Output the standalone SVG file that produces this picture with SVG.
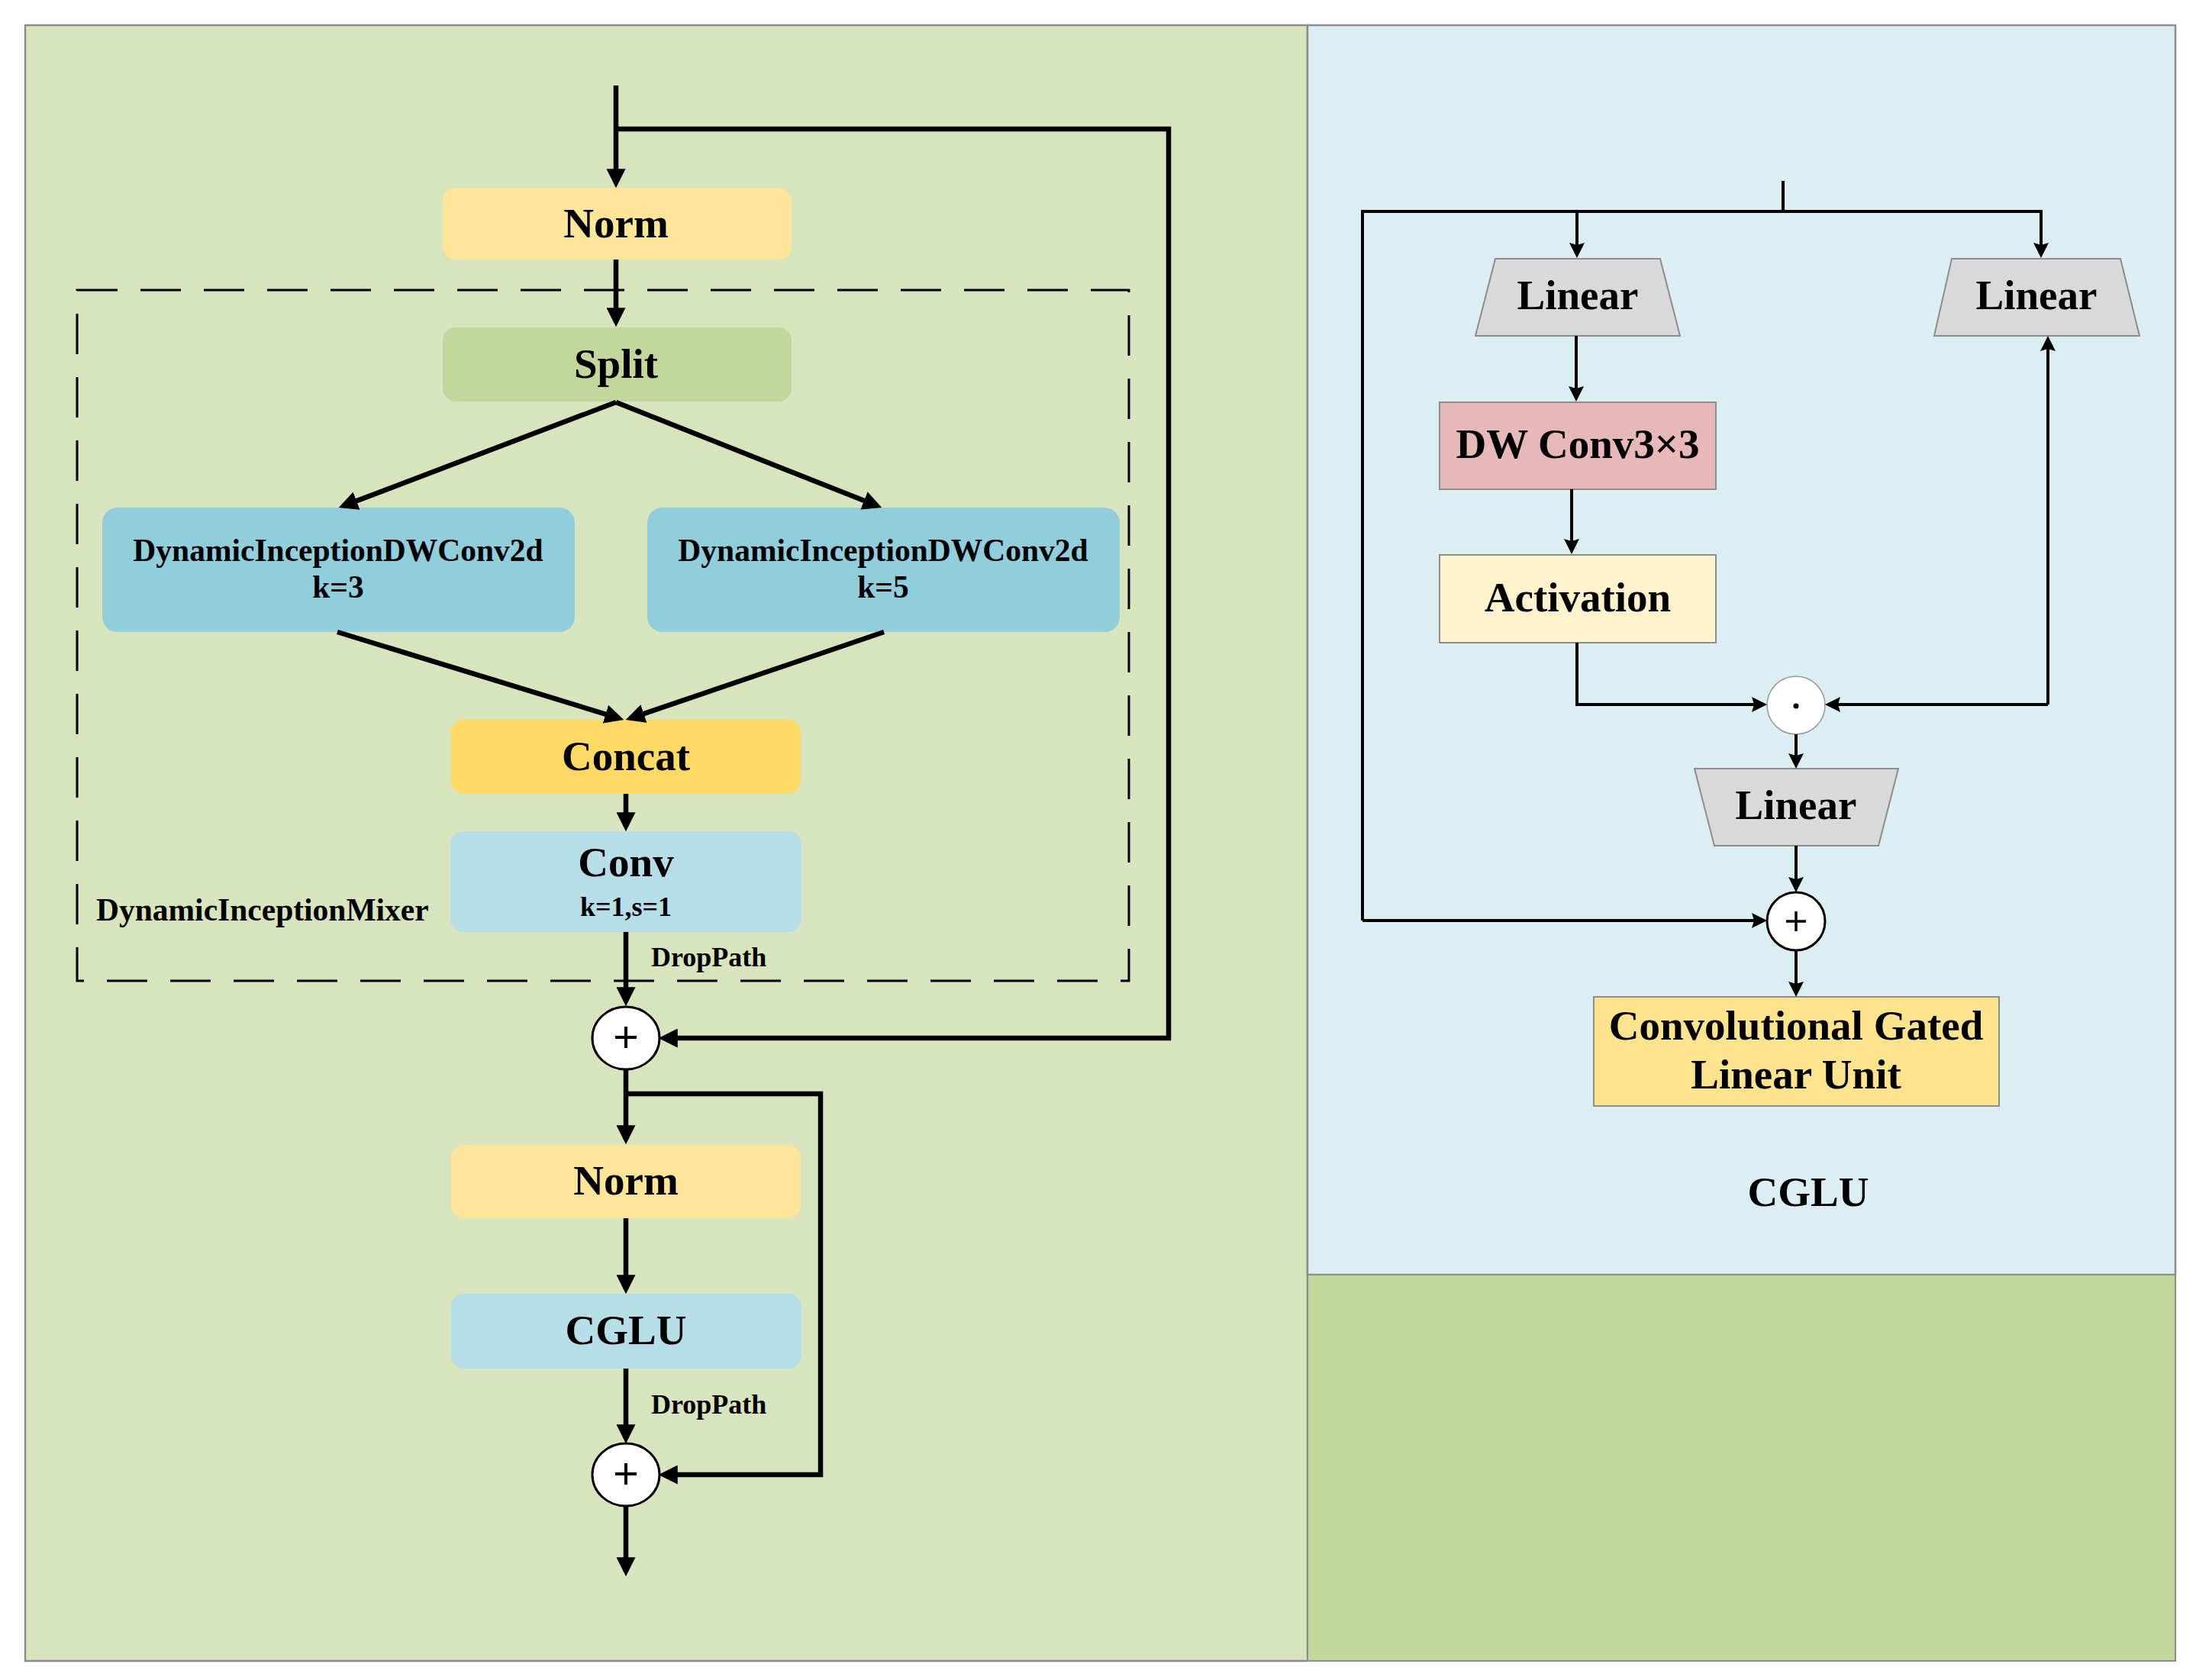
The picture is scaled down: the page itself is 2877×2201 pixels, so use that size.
<svg xmlns="http://www.w3.org/2000/svg" width="2877" height="2201" viewBox="0 0 2877 2201">
<defs>
<style>
.t{font-family:"Liberation Serif","Times New Roman",serif;font-weight:bold;fill:#000;text-anchor:middle}
.big{font-size:55px}
.mid{font-size:41.5px}
.sm{font-size:36px}
.cl{fill:none;stroke:#000;stroke-width:6.5;stroke-linejoin:miter}
.cr{fill:none;stroke:#000;stroke-width:4;stroke-linejoin:miter}
.box{stroke:none}
.sq{stroke:#8c8c8c;stroke-width:2}
</style>
<marker id="a" viewBox="0 0 24 24" markerWidth="25" markerHeight="25" refX="18" refY="12" orient="auto" markerUnits="userSpaceOnUse">
<path d="M0,0 L24,12 L0,24 Z" fill="#000"/>
</marker>
<marker id="b" viewBox="0 0 20 20" markerWidth="20" markerHeight="20" refX="16" refY="10" orient="auto" markerUnits="userSpaceOnUse">
<path d="M0,0 L20,10 L0,20 L3,10 Z" fill="#000"/>
</marker>
</defs>
<rect width="2877" height="2201" fill="#fff"/>
<g id="panels">
<rect x="33" y="33" width="1680" height="2143" fill="#d7e4bd" stroke="#8c8c8c" stroke-width="2.5"/>
<rect x="1713" y="33" width="1137" height="1637" fill="#daeef3" stroke="#8c8c8c" stroke-width="2.5"/>
<rect x="1713" y="1670" width="1137" height="506" fill="#c3d69b" stroke="#8c8c8c" stroke-width="2"/>
</g>
<g id="mixer-frame">
<rect x="101" y="380" width="1378" height="905" fill="none" stroke="#000" stroke-width="3" stroke-dasharray="53 30"/>
<text class="t mid" x="126" y="1206" style="text-anchor:start">DynamicInceptionMixer</text>
</g>
<g id="norm1"><rect class="box" x="580" y="246" width="457" height="94" rx="17" fill="#fee599"/><text class="t big" x="807" y="311">Norm</text></g>
<g id="split"><rect class="box" x="580" y="429" width="457" height="97" rx="17" fill="#c3d69b"/><text class="t big" x="807" y="495">Split</text></g>
<g id="didw3"><rect class="box" x="134" y="665" width="619" height="163" rx="20" fill="#92cddc"/><text class="t mid" x="443" y="735">DynamicInceptionDWConv2d</text><text class="t mid" x="443" y="783">k=3</text></g>
<g id="didw5"><rect class="box" x="848" y="665" width="619" height="163" rx="20" fill="#92cddc"/><text class="t mid" x="1157" y="735">DynamicInceptionDWConv2d</text><text class="t mid" x="1157" y="783">k=5</text></g>
<g id="concat"><rect class="box" x="591" y="943" width="458" height="97" rx="17" fill="#ffd966"/><text class="t big" x="820" y="1009">Concat</text></g>
<g id="conv"><rect class="box" x="590" y="1089" width="460" height="132" rx="17" fill="#b7dde8"/><text class="t big" x="820" y="1148">Conv</text><text class="t sm" x="820" y="1200">k=1,s=1</text></g>
<g id="add1"><ellipse cx="820" cy="1360" rx="44" ry="41" fill="#fff" stroke="#000" stroke-width="3"/><path d="M806,1359 H834 M820,1345 V1373" stroke="#000" stroke-width="4"/></g>
<g id="norm2"><rect class="box" x="591" y="1500" width="458" height="96" rx="17" fill="#fee599"/><text class="t big" x="820" y="1565">Norm</text></g>
<g id="cglu"><rect class="box" x="591" y="1695" width="459" height="98" rx="17" fill="#b7dde8"/><text class="t big" x="820" y="1761">CGLU</text></g>
<g id="add2"><ellipse cx="820" cy="1932" rx="44" ry="41" fill="#fff" stroke="#000" stroke-width="3"/><path d="M806,1931 H834 M820,1917 V1945" stroke="#000" stroke-width="4"/></g>
<g id="droppath-labels"><text class="t sm" x="853" y="1266" style="text-anchor:start">DropPath</text><text class="t sm" x="853" y="1852" style="text-anchor:start">DropPath</text></g>
<g id="linear1"><path class="sq" d="M1959,339 L2175,339 L2201,440 L1933,440 Z" fill="#d9d9d9"/><text class="t big" x="2067" y="405">Linear</text></g>
<g id="linear2"><path class="sq" d="M2557,339 L2778,339 L2803,440 L2534,440 Z" fill="#d9d9d9"/><text class="t big" x="2668" y="405">Linear</text></g>
<g id="dwconv"><rect class="sq" x="1886" y="527" width="362" height="114" fill="#e6b8b7"/><text class="t big" x="2067" y="600">DW Conv3×3</text></g>
<g id="activation"><rect class="sq" x="1886" y="727" width="362" height="115" fill="#fff2cc"/><text class="t big" x="2067" y="801">Activation</text></g>
<g id="mul"><circle cx="2353" cy="924" r="38" fill="#fff" stroke="#999" stroke-width="1.5"/><circle cx="2353" cy="925" r="3.5" fill="#000"/></g>
<g id="linear3"><path class="sq" d="M2220,1007 L2487,1007 L2461,1108 L2246,1108 Z" fill="#d9d9d9"/><text class="t big" x="2353" y="1073">Linear</text></g>
<g id="add3"><circle cx="2353" cy="1207" r="38" fill="#fff" stroke="#000" stroke-width="3"/><path d="M2340,1207 H2366 M2353,1194 V1220" stroke="#000" stroke-width="3.5"/></g>
<g id="cglu-out"><rect class="sq" x="2088" y="1306" width="531" height="143" fill="#ffe38f"/><text class="t big" x="2353" y="1362">Convolutional Gated</text><text class="t big" x="2353" y="1426">Linear Unit</text></g>
<g id="cglu-title"><text class="t big" x="2369" y="1580">CGLU</text></g>
<g id="connectors">
<path class="cl" d="M807,112 V240" marker-end="url(#a)"/>
<path class="cl" d="M807,169 H1531 V1360 H869" marker-end="url(#a)"/>
<path class="cl" d="M807,340 V422" marker-end="url(#a)"/>
<path class="cl" d="M807,527 L449.6,662.9" marker-end="url(#a)"/>
<path class="cl" d="M807,527 L1149.4,662.8" marker-end="url(#a)"/>
<path class="cl" d="M442,828 L811.3,941.2" marker-end="url(#a)"/>
<path class="cl" d="M1158,828 L825.7,941.1" marker-end="url(#a)"/>
<path class="cl" d="M820,1040 V1083" marker-end="url(#a)"/>
<path class="cl" d="M820,1221 V1312" marker-end="url(#a)"/>
<path class="cl" d="M820,1401 V1493" marker-end="url(#a)"/>
<path class="cl" d="M820,1433 H1075 V1932 H869" marker-end="url(#a)"/>
<path class="cl" d="M820,1596 V1689" marker-end="url(#a)"/>
<path class="cl" d="M820,1793 V1885" marker-end="url(#a)"/>
<path class="cl" d="M820,1973 V2059" marker-end="url(#a)"/>
<path class="cr" d="M2336,237 V277"/>
<path class="cr" d="M1785,1206 V277 H2674 V334" marker-end="url(#b)"/>
<path class="cr" d="M2066,277 V334" marker-end="url(#b)"/>
<path class="cr" d="M2065,440 V522" marker-end="url(#b)"/>
<path class="cr" d="M2059,641 V722" marker-end="url(#b)"/>
<path class="cr" d="M2066,842 V923 H2311" marker-end="url(#b)"/>
<path class="cr" d="M2683,923 V444" marker-end="url(#b)"/>
<path class="cr" d="M2683,923 H2395" marker-end="url(#b)"/>
<path class="cr" d="M2353,962 V1003" marker-end="url(#b)"/>
<path class="cr" d="M2353,1108 V1165" marker-end="url(#b)"/>
<path class="cr" d="M1785,1206 H2311" marker-end="url(#b)"/>
<path class="cr" d="M2353,1245 V1302" marker-end="url(#b)"/>
</g>
</svg>
